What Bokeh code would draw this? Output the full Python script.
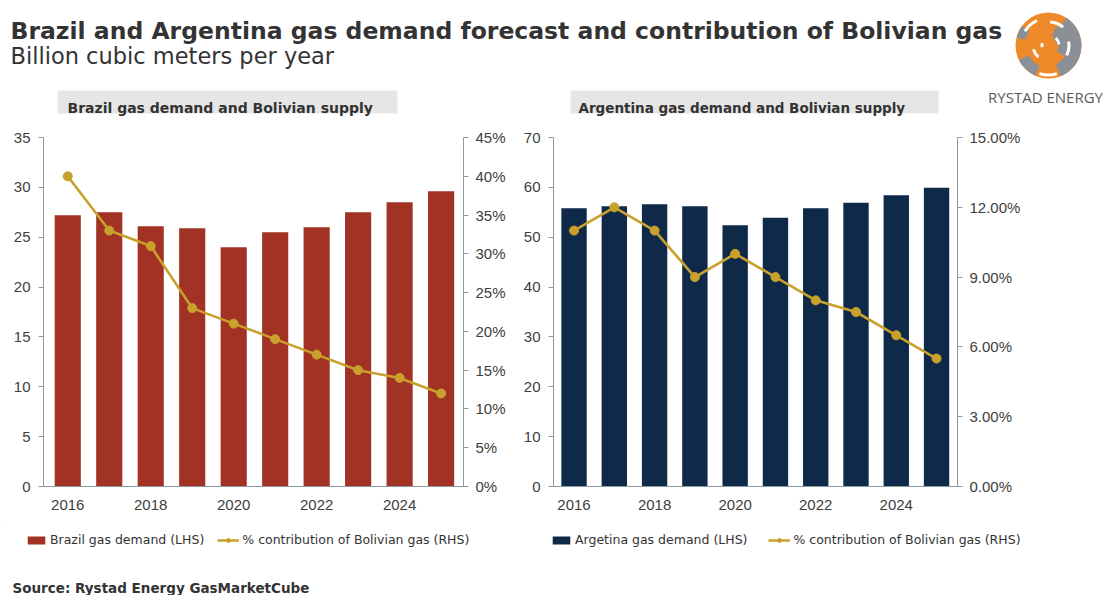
from bokeh.plotting import figure
from bokeh.models import (Range1d, LinearAxis, FixedTicker, PrintfTickFormatter,
                          Legend, LegendItem, ColumnDataSource)
from bokeh.layouts import column, row
from bokeh.embed import file_html
from bokeh.resources import INLINE
from bokeh.core.properties import value

# ---------------- data ----------------
years = [2016, 2017, 2018, 2019, 2020, 2021, 2022, 2023, 2024, 2025]
year_ticks = [2016, 2018, 2020, 2022, 2024]

brazil_demand = [27.2, 27.5, 26.1, 25.9, 24.0, 25.5, 26.0, 27.5, 28.5, 29.6]
brazil_pct = [40, 33, 31, 23, 21, 19, 17, 15, 14, 12]
brazil_ticks = [0, 5, 10, 15, 20, 25, 30, 35]
brazil_pct_ticks = [0, 5, 10, 15, 20, 25, 30, 35, 40, 45]

argentina_demand = [55.8, 56.2, 56.6, 56.2, 52.4, 53.9, 55.8, 56.9, 58.4, 59.9]
argentina_pct = [11.0, 12.0, 11.0, 9.0, 10.0, 9.0, 8.0, 7.5, 6.5, 5.5]
argentina_ticks = [0, 10, 20, 30, 40, 50, 60, 70]
argentina_pct_ticks = [0, 3, 6, 9, 12, 15]

title = "Brazil and Argentina gas demand forecast and contribution of Bolivian gas"
subtitle = "Billion cubic meters per year"
brazil_title = "Brazil gas demand and Bolivian supply"
argentina_title = "Argentina gas demand and Bolivian supply"
brazil_bar_label = "Brazil gas demand (LHS)"
argentina_bar_label = "Argetina gas demand (LHS)"
line_label = "% contribution of Bolivian gas (RHS)"
source_text = "Source: Rystad Energy GasMarketCube"
brand = "RYSTAD ENERGY"

# ---------------- styles ----------------
RED = "#a13224"
NAVY = "#0e2a48"
GOLD = "#c9a02c"
AXIS = "#8e9aa2"
TICK_TXT = "#404040"
DARK = "#333333"
BOX = "#e6e6e6"
W = 1110


def bare(width, height, x0, x1, y_top, y_bottom):
    p = figure(width=width, height=height, x_range=Range1d(x0, x1),
               y_range=Range1d(y_bottom, y_top), output_backend="svg",
               toolbar_location=None, min_border=0,
               x_axis_location=None, y_axis_location=None)
    p.outline_line_color = None
    p.grid.visible = False
    return p


def chart(width, bl, br, xr, demand, pct, ymax, pmax, yt, pt, pfmt, bar_color):
    p = figure(width=width, height=400, x_range=Range1d(*xr),
               y_range=Range1d(0, ymax), output_backend="svg",
               toolbar_location=None, min_border_left=bl, min_border_right=br,
               min_border_top=17, min_border_bottom=34,
               x_axis_location=None, y_axis_location=None)
    p.outline_line_color = None
    p.grid.visible = False
    p.extra_y_ranges = {"pct": Range1d(0, pmax)}

    src = ColumnDataSource(dict(x=years, top=demand, pct=pct))
    p.vbar(x="x", top="top", width=0.63, source=src,
           fill_color=bar_color, line_color=None)
    p.line(x="x", y="pct", source=src, y_range_name="pct",
           line_color=GOLD, line_width=2.6)
    p.scatter(x="x", y="pct", source=src, y_range_name="pct",
              size=9, fill_color=GOLD, line_color=GOLD)

    common = dict(axis_line_color=AXIS, major_tick_line_color=AXIS,
                  minor_tick_line_color=None,
                  major_label_text_font="Liberation Sans",
                  major_label_text_font_size="15px",
                  major_label_text_color=TICK_TXT)
    xa = LinearAxis(ticker=FixedTicker(ticks=year_ticks),
                    major_tick_out=0, major_tick_in=0,
                    major_label_standoff=13, **common)
    xa.major_tick_line_color = None
    p.add_layout(xa, "below")
    ya = LinearAxis(ticker=FixedTicker(ticks=yt), major_tick_out=5,
                    major_tick_in=0, major_label_standoff=8, **common)
    p.add_layout(ya, "left")
    yb = LinearAxis(y_range_name="pct", ticker=FixedTicker(ticks=pt),
                    formatter=PrintfTickFormatter(format=pfmt),
                    major_tick_out=5, major_tick_in=0,
                    major_label_standoff=7, **common)
    p.add_layout(yb, "right")
    return p


left = chart(515, 43, 52, (2015.415, 2025.54), brazil_demand, brazil_pct,
             35, 45, brazil_ticks, brazil_pct_ticks, "%d%%", RED)
right = chart(595, 38, 153, (2015.49, 2025.52), argentina_demand,
              argentina_pct, 70, 15, argentina_ticks, argentina_pct_ticks,
              "%.2f%%", NAVY)

# ---------------- header ----------------
h = bare(W, 120, 0, W, 0, 120)
h.text(x=[10], y=[30], text=[title], text_font=value("DejaVu Sans"),
       text_font_style="bold", text_font_size="23.5px", text_color=DARK,
       text_baseline="alphabetic")
h.text(x=[10], y=[55], text=[subtitle], text_font=value("DejaVu Sans"),
       text_font_size="22.5px", text_color=DARK, text_baseline="alphabetic")

h.quad(left=[57, 570], right=[397, 938], top=[90, 90], bottom=[113, 113],
       fill_color=BOX, line_color=None)
h.text(x=[67], y=[107.5], text=[brazil_title],
       text_font=value("DejaVu Sans"), text_font_style="bold",
       text_font_size="14px", text_color=DARK, text_baseline="alphabetic")
h.text(x=[578], y=[107.5], text=[argentina_title],
       text_font=value("DejaVu Sans"), text_font_style="bold",
       text_font_size="13.5px", text_color=DARK, text_baseline="alphabetic")

# logo (decorative globe)
cx, cy, R = 1048, 45, 33
h.circle(x=[cx], y=[cy], radius=R, fill_color="#ef8a2b", line_color=None)
h.annular_wedge(x=[cx] * 5, y=[cy] * 5,
                inner_radius=[20, 10, 22, 24, 8],
                outer_radius=[33, 21, 33, 33, 14],
                start_angle=[-1.2, -0.6, 3.6, 2.5, 0.2],
                end_angle=[1.0, 1.2, 4.3, 2.9, 0.9],
                fill_color="#8b9096", line_color=None)
h.annular_wedge(x=[cx] * 7, y=[cy] * 7,
                inner_radius=[19, 9, 26, 14, 28, 5, 22],
                outer_radius=[22, 12, 29, 17, 31, 8, 25],
                start_angle=[-0.5, 0.1, 2.0, 3.4, 4.4, 2.8, 0.9],
                end_angle=[0.2, 0.8, 2.6, 4.0, 5.0, 3.4, 1.5],
                fill_color="white", line_color=None)
h.text(x=[1045], y=[96], text=[brand], text_font=value("Open Sans"),
       text_font_size="15px", text_color="#5a5a5a", text_align="center",
       text_baseline="alphabetic")

# ---------------- footer with legends ----------------
f = bare(W, 75, 0, W, 520, 595)
# legend proxies: one point placed outside the footer's visible range
proxy = ColumnDataSource(dict(x=[-1000], y=[-1000]))
red_key = f.vbar(x="x", top="y", width=1, source=proxy, fill_color=RED,
                 line_color=None)
navy_key = f.vbar(x="x", top="y", width=1, source=proxy, fill_color=NAVY,
                  line_color=None)
gold_line = f.line(x="x", y="y", source=proxy, line_color=GOLD, line_width=2.5)
gold_dot = f.scatter(x="x", y="y", source=proxy, size=7, fill_color=GOLD,
                     line_color=GOLD)

leg_style = dict(orientation="horizontal", glyph_width=22, glyph_height=10,
                 label_height=10, label_standoff=3, padding=0, margin=0,
                 border_line_color=None, background_fill_alpha=0,
                 label_text_font="DejaVu Sans", label_text_font_size="12.5px",
                 label_text_color=DARK)
f.add_layout(Legend(items=[LegendItem(label=brazil_bar_label, renderers=[red_key]),
                           LegendItem(label=line_label, renderers=[gold_line, gold_dot])],
                    location=(25, 48), spacing=13, **leg_style))
f.add_layout(Legend(items=[LegendItem(label=argentina_bar_label, renderers=[navy_key]),
                           LegendItem(label=line_label, renderers=[gold_line, gold_dot])],
                    location=(550, 48), spacing=21, **leg_style))

f.text(x=[12], y=[587], text=[source_text], text_font=value("DejaVu Sans"),
       text_font_style="bold", text_font_size="13.5px", text_color=DARK,
       text_baseline="alphabetic")

layout = column(h, row(left, right), f)
open("out.html", "w").write(file_html(layout, INLINE))
